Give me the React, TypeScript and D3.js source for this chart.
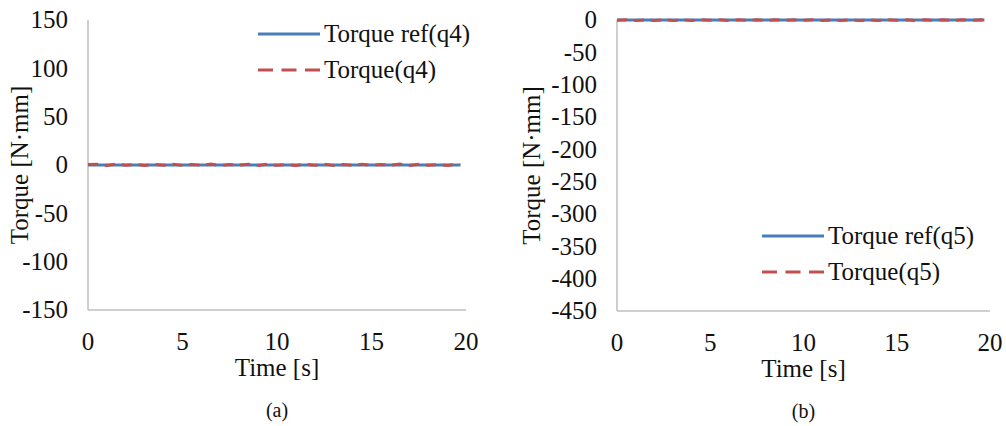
import React from "react";
import * as d3 from "d3";

const timeS = [0, 0.5, 1, 1.5, 2, 2.5, 3, 3.5, 4, 4.5, 5, 5.5, 6, 6.5, 7, 7.5, 8, 8.5, 9, 9.5, 10, 10.5, 11, 11.5, 12, 12.5, 13, 13.5, 14, 14.5, 15, 15.5, 16, 16.5, 17, 17.5, 18, 18.5, 19, 19.5, 19.7];
const torqueRefQ4 = [0, 0, 0, 0, 0, 0, 0, 0, 0, 0, 0, 0, 0, 0, 0, 0, 0, 0, 0, 0, 0, 0, 0, 0, 0, 0, 0, 0, 0, 0, 0, 0, 0, 0, 0, 0, 0, 0, 0, 0, 0];
const torqueQ4 = [0.5, 0.8, -0.4, 0.9, -0.3, 0.7, -0.5, 0.6, -0.2, 0.8, -0.4, 0.5, -0.3, 0.9, -0.5, 0.6, -0.2, 0.7, -0.4, 0.8, -0.3, 0.6, -0.5, 0.9, -0.2, 0.7, -0.4, 0.5, -0.3, 0.8, -0.5, 0.6, -0.2, 0.9, -0.4, 0.7, -0.3, 0.5, -0.5, 0.6, 0.3];
const torqueRefQ5 = [0, 0, 0, 0, 0, 0, 0, 0, 0, 0, 0, 0, 0, 0, 0, 0, 0, 0, 0, 0, 0, 0, 0, 0, 0, 0, 0, 0, 0, 0, 0, 0, 0, 0, 0, 0, 0, 0, 0, 0, 0];
const torqueQ5 = [-0.5, 0.4, -0.8, 0.3, -0.6, 0.5, -0.9, 0.2, -0.7, 0.4, -0.5, 0.3, -0.8, 0.5, -0.6, 0.2, -0.9, 0.4, -0.7, 0.3, -0.5, 0.5, -0.8, 0.2, -0.6, 0.4, -0.9, 0.3, -0.7, 0.5, -0.5, 0.2, -0.8, 0.4, -0.6, 0.3, -0.9, 0.5, -0.7, 0.2, -0.4];

const xTicks = [0, 5, 10, 15, 20];
const yTicksA = [150, 100, 50, 0, -50, -100, -150];
const yTicksB = [0, -50, -100, -150, -200, -250, -300, -350, -400, -450];

const BLUE = "#4A7EBB";
const RED = "#C0504D";
const AXIS = "#BFBFBF";
const TEXT = "#111";
const FONT = "Liberation Serif";
const FS = 25;

type PanelProps = {
  x0: number; x1: number; y0: number; y1: number;
  yDomain: [number, number]; yTicks: number[];
  refData: number[]; actData: number[];
  refLabel: string; actLabel: string;
  legendX: number; legendY: number;
  ylabelX: number; tag: string;
};

function Panel(p: PanelProps) {
  const x = d3.scaleLinear().domain([0, 20]).range([p.x0, p.x1]);
  const y = d3.scaleLinear().domain(p.yDomain).range([p.y1, p.y0]);
  const line = d3.line<number>().x((_, i) => x(timeS[i])).y((d) => y(d));
  const cy = (p.y0 + p.y1) / 2;
  const ts = { fontFamily: FONT, fontSize: FS + "px" };
  return (
    <g fill={TEXT}>
      <line x1={p.x0} x2={p.x0} y1={p.y0} y2={p.y1} stroke={AXIS} strokeWidth={1.5} />
      <line x1={p.x0} x2={p.x1} y1={p.y1} y2={p.y1} stroke={AXIS} strokeWidth={1.5} />
      {p.yTicks.map((t) => (
        <text key={t} x={p.x0 - 20} y={y(t)} dy="0.33em" textAnchor="end" style={ts}>{t}</text>
      ))}
      {xTicks.map((t) => (
        <text key={t} x={x(t)} y={p.y1 + 32} dy="0.33em" textAnchor="middle" style={ts}>{t}</text>
      ))}
      <text x={(p.x0 + p.x1) / 2} y={p.y1 + 58} dy="0.33em" textAnchor="middle" style={ts}>Time [s]</text>
      <text transform={`translate(${p.ylabelX},${cy}) rotate(-90)`} textAnchor="middle" style={ts}>Torque [N·mm]</text>
      <text x={(p.x0 + p.x1) / 2} y={p.y1 + 100} dy="0.35em" textAnchor="middle" style={{ fontFamily: FONT, fontSize: "20px" }}>{p.tag}</text>
      <path d={line(p.refData) || ""} fill="none" stroke={BLUE} strokeWidth={3} />
      <path d={line(p.actData) || ""} fill="none" stroke={RED} strokeWidth={3} strokeDasharray="10,7" />
      <line x1={p.legendX} x2={p.legendX + 62} y1={p.legendY} y2={p.legendY} stroke={BLUE} strokeWidth={3} />
      <text x={p.legendX + 66} y={p.legendY} dy="0.33em" style={ts}>{p.refLabel}</text>
      <line x1={p.legendX} x2={p.legendX + 62} y1={p.legendY + 36} y2={p.legendY + 36} stroke={RED} strokeWidth={3} strokeDasharray="15,8.5" />
      <text x={p.legendX + 66} y={p.legendY + 36} dy="0.33em" style={ts}>{p.actLabel}</text>
    </g>
  );
}

export default function App() {
  return (
    <svg width={1006} height={426} style={{ position: "absolute", left: 0, top: 0, background: "#fff" }}>
      <rect width={1006} height={426} fill="#fff" />
      <Panel x0={88} x1={466} y0={20} y1={310} yDomain={[-150, 150]} yTicks={yTicksA}
        refData={torqueRefQ4} actData={torqueQ4} refLabel="Torque ref(q4)" actLabel="Torque(q4)"
        legendX={258} legendY={34} ylabelX={28} tag="(a)" />
      <Panel x0={617} x1={990} y0={20} y1={311} yDomain={[-450, 0]} yTicks={yTicksB}
        refData={torqueRefQ5} actData={torqueQ5} refLabel="Torque ref(q5)" actLabel="Torque(q5)"
        legendX={762} legendY={236} ylabelX={540} tag="(b)" />
    </svg>
  );
}
